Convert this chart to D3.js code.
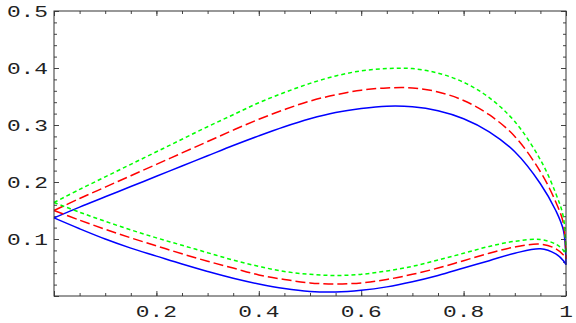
<!DOCTYPE html>
<html>
<head>
<meta charset="utf-8">
<script src="https://cdn.jsdelivr.net/npm/d3@7"></script>
<style>
  html, body { margin: 0; padding: 0; background: #fff; }
  svg { display: block; }
</style>
</head>
<body>
<div id="chart"></div>
<script>
const width = 576;
const height = 323;

// sample positions along x
const xs = [0, 0.05, 0.1, 0.15, 0.2, 0.25, 0.3, 0.35, 0.4, 0.45, 0.5, 0.55, 0.6,
            0.65, 0.7, 0.75, 0.8, 0.85, 0.9, 0.95, 0.98, 0.995, 1];

// upper branches
const blueUpper  = [0.137, 0.156, 0.174, 0.192, 0.210, 0.228, 0.246, 0.264, 0.281, 0.297, 0.311, 0.322, 0.329,
                    0.333, 0.332, 0.325, 0.311, 0.288, 0.253, 0.197, 0.150, 0.115, 0.055];
const redUpper   = [0.150, 0.171, 0.191, 0.211, 0.231, 0.251, 0.271, 0.291, 0.310, 0.327, 0.342, 0.353, 0.361,
                    0.365, 0.365, 0.358, 0.343, 0.318, 0.280, 0.218, 0.165, 0.127, 0.065];
const greenUpper = [0.164, 0.187, 0.209, 0.231, 0.253, 0.275, 0.297, 0.318, 0.339, 0.357, 0.373, 0.386, 0.395,
                    0.399, 0.399, 0.391, 0.375, 0.348, 0.306, 0.239, 0.180, 0.138, 0.072];

// lower branches
const blueLower  = [0.137, 0.118, 0.100, 0.084, 0.070, 0.056, 0.043, 0.031, 0.021, 0.013, 0.008, 0.007, 0.010,
                    0.016, 0.025, 0.036, 0.049, 0.062, 0.075, 0.083, 0.074, 0.062, 0.055];
const redLower   = [0.150, 0.133, 0.117, 0.102, 0.088, 0.074, 0.061, 0.049, 0.037, 0.029, 0.023, 0.021, 0.023,
                    0.029, 0.038, 0.049, 0.062, 0.075, 0.086, 0.091, 0.083, 0.072, 0.065];
const greenLower = [0.164, 0.147, 0.131, 0.116, 0.102, 0.089, 0.076, 0.063, 0.052, 0.043, 0.038, 0.036, 0.038,
                    0.044, 0.052, 0.063, 0.075, 0.087, 0.096, 0.099, 0.091, 0.080, 0.072];

const xMajor = [0, 0.2, 0.4, 0.6, 0.8, 1];
const xMinor = d3.range(0, 1.0001, 0.05).map(v => +v.toFixed(2));
const yMajor = [0, 0.1, 0.2, 0.3, 0.4, 0.5];
const yMinor = d3.range(0, 0.5001, 0.02).map(v => +v.toFixed(2));
const xLabels = [0.2, 0.4, 0.6, 0.8, 1];
const yLabels = [0.1, 0.2, 0.3, 0.4, 0.5];

const series = [
  { upper: blueUpper,  lower: blueLower,  color: "#0000ff", dash: null },
  { upper: redUpper,   lower: redLower,   color: "#ff0000", dash: "10,4" },
  { upper: greenUpper, lower: greenLower, color: "#00ff00", dash: "4,3" }
];

const m = { left: 54, right: 566, top: 11, bottom: 296 };

const x = d3.scaleLinear().domain([0, 1]).range([m.left, m.right]);
const y = d3.scaleLinear().domain([0, 0.5]).range([m.bottom, m.top]);

const svg = d3.select("#chart")
  .append("svg")
  .attr("width", width)
  .attr("height", height);

const fontFam = "'Liberation Mono', 'DejaVu Sans Mono', monospace";

function tickAxis(axis, values, size, g) {
  g.call(axis.tickValues(values).tickSize(-size).tickFormat(""))
    .call(s => s.select(".domain").remove())
    .call(s => s.selectAll("line").attr("stroke", "#444").attr("stroke-width", 1));
}

// minor ticks, all four sides
tickAxis(d3.axisBottom(x), xMinor, 3, svg.append("g").attr("transform", `translate(0,${m.bottom})`));
tickAxis(d3.axisTop(x), xMinor, 3, svg.append("g").attr("transform", `translate(0,${m.top})`));
tickAxis(d3.axisLeft(y), yMinor, 3, svg.append("g").attr("transform", `translate(${m.left},0)`));
tickAxis(d3.axisRight(y), yMinor, 3, svg.append("g").attr("transform", `translate(${m.right},0)`));
// major ticks
tickAxis(d3.axisBottom(x), xMajor, 5, svg.append("g").attr("transform", `translate(0,${m.bottom})`));
tickAxis(d3.axisTop(x), xMajor, 5, svg.append("g").attr("transform", `translate(0,${m.top})`));
tickAxis(d3.axisLeft(y), yMajor, 5, svg.append("g").attr("transform", `translate(${m.left},0)`));
tickAxis(d3.axisRight(y), yMajor, 5, svg.append("g").attr("transform", `translate(${m.right},0)`));

// curves
const line = d3.line()
  .x((d, i) => x(xs[i]))
  .y(d => y(d))
  .curve(d3.curveCatmullRom.alpha(0.5));

const plot = svg.append("g");
series.forEach(s => {
  [s.upper, s.lower].forEach(vals => {
    plot.append("path")
      .attr("d", line(vals))
      .attr("fill", "none")
      .attr("stroke", s.color)
      .attr("stroke-width", 1.5)
      .attr("stroke-dasharray", s.dash);
  });
});

// frame
svg.append("rect")
  .attr("x", m.left).attr("y", m.top)
  .attr("width", m.right - m.left).attr("height", m.bottom - m.top)
  .attr("fill", "none")
  .attr("stroke", "#333")
  .attr("stroke-width", 1);

// labels
const charW = 13.7;
svg.append("g").selectAll("text")
  .data(yLabels)
  .join("text")
  .attr("x", m.left - 6)
  .attr("y", d => y(d) + 6)
  .attr("text-anchor", "end")
  .attr("textLength", d => String(d).length * charW)
  .attr("lengthAdjust", "spacingAndGlyphs")
  .style("font-family", fontFam)
  .style("font-size", "17px")
  .style("fill", "#222")
  .text(d => String(d));

svg.append("g").selectAll("text")
  .data(xLabels)
  .join("text")
  .attr("x", d => x(d))
  .attr("y", 317)
  .attr("text-anchor", "middle")
  .attr("textLength", d => String(d).length * charW)
  .attr("lengthAdjust", "spacingAndGlyphs")
  .style("font-family", fontFam)
  .style("font-size", "17px")
  .style("fill", "#222")
  .text(d => String(d));
</script>
</body>
</html>
